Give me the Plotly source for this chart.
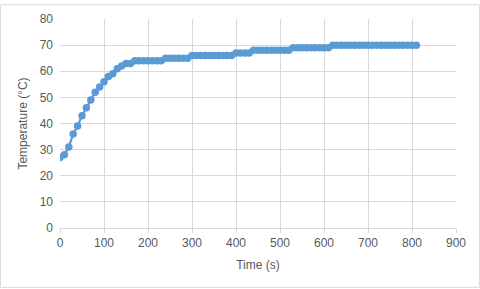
import plotly.graph_objects as go

time_s = list(range(0, 820, 10))
temp_early = [27, 28, 31, 36, 39, 43, 46, 49, 52, 54, 56, 58, 59, 61, 62, 63, 63]  # 0..160
plateaus = [(64, 170, 230), (65, 240, 290), (66, 300, 390), (67, 400, 430),
            (68, 440, 520), (69, 530, 610), (70, 620, 810)]
temperature = list(temp_early)
for val, a, b in plateaus:
    temperature += [val] * ((b - a) // 10 + 1)

x_ticks = list(range(0, 1000, 100))
y_ticks = list(range(0, 90, 10))

blue = "#5b9bd5"
grid = "#d9d9d9"
txt = "#595959"
font = "Liberation Sans"

fig = go.Figure(go.Scatter(
    x=time_s, y=temperature, mode="lines+markers",
    line=dict(color=blue, width=2.25),
    marker=dict(color=blue, size=7.5),
))

fig.update_layout(
    width=480, height=289,
    margin=dict(l=60, r=24, t=15, b=61),
    paper_bgcolor="white", plot_bgcolor="white",
    showlegend=False,
    font=dict(family=font, size=12, color=txt),
    shapes=[dict(type="rect", xref="paper", yref="paper",
                 x0=-0.1503, x1=1.0593, y0=-0.284, y1=1.068,
                 line=dict(color=grid, width=1), layer="below")],
)
fig.update_xaxes(
    range=[0, 900], tickvals=x_ticks, ticktext=[str(v) for v in x_ticks],
    showgrid=True, gridcolor=grid, gridwidth=1,
    showline=True, linecolor=grid, linewidth=1,
    ticks="outside", ticklen=4, tickcolor=grid,
    zeroline=False,
    title=dict(text="Time (s)", font=dict(size=12, color=txt), standoff=11),
    tickfont=dict(size=12, color=txt),
)
fig.update_yaxes(
    range=[0, 80], tickvals=y_ticks, ticktext=[str(v) for v in y_ticks],
    showgrid=True, gridcolor=grid, gridwidth=1,
    showline=False, zeroline=False, ticks="",
    ticklabelstandoff=6,
    title=dict(text="Temperature (°C)", font=dict(size=12, color=txt), standoff=9),
    tickfont=dict(size=12, color=txt),
)

fig.write_html("out.html")
